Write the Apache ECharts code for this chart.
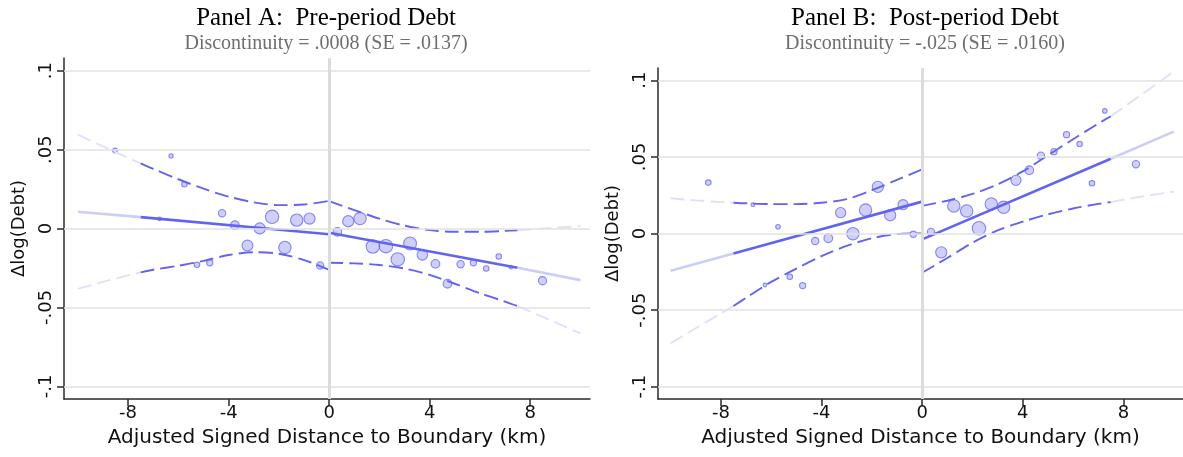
<!DOCTYPE html>
<html>
<head>
<meta charset="utf-8">
<script src="https://cdn.jsdelivr.net/npm/echarts@6/dist/echarts.min.js"></script>
<style>
  html, body { margin: 0; padding: 0; background: #fff; }
  #chart { width: 1183px; height: 457px; }
</style>
</head>
<body>
<div id="chart"></div>
<script>
// Axis ticks
const xTicks = [-8, -4, 0, 4, 8];
const yTicks = [-0.1, -0.05, 0, 0.05, 0.1];
const yTickLabels = ['-.1', '-.05', '0', '.05', '.1'];

// Panel titles
const titles = ['Panel A:  Pre-period Debt', 'Panel B:  Post-period Debt'];
const subtitles = ['Discontinuity = .0008 (SE = .0137)', 'Discontinuity = -.025 (SE = .0160)'];
const xName = 'Adjusted Signed Distance to Boundary (km)';
const yName = '\u0394log(Debt)';

// Binned means: [distance, mean, bin weight]
const binsA = [
  [-8.52, 0.0494, 2], [-6.75, 0.0061, 1], [-6.29, 0.0460, 1.5], [-5.76, 0.0280, 3],
  [-5.26, -0.0230, 3], [-4.75, -0.0217, 4], [-4.26, 0.0097, 6], [-3.75, 0.0021, 9],
  [-3.25, -0.0108, 15], [-2.76, 0.0000, 16], [-2.27, 0.0074, 24], [-1.76, -0.0120, 20],
  [-1.29, 0.0053, 20], [-0.78, 0.0063, 16], [-0.36, -0.0234, 6],
  [0.33, -0.0021, 9], [0.76, 0.0046, 16], [1.23, 0.0063, 20], [1.74, -0.0114, 24],
  [2.26, -0.0112, 24], [2.73, -0.0196, 24], [3.22, -0.0095, 22], [3.71, -0.0167, 14],
  [4.23, -0.0224, 9], [4.71, -0.0350, 9], [5.23, -0.0226, 6], [5.74, -0.0217, 4],
  [6.25, -0.0253, 3], [6.75, -0.0177, 3], [7.23, -0.0245, 1], [8.49, -0.0331, 8]
];
const binsB = [
  [-8.50, 0.0332, 3], [-6.73, 0.0188, 1], [-6.25, -0.0336, 1], [-5.73, 0.0044, 1.8],
  [-5.26, -0.0282, 3], [-4.75, -0.0340, 4], [-4.25, -0.0049, 6], [-3.73, -0.0031, 9],
  [-3.24, 0.0136, 13], [-2.75, -0.0001, 20], [-2.25, 0.0153, 20], [-1.76, 0.0304, 16],
  [-1.27, 0.0119, 16], [-0.76, 0.0188, 13], [-0.35, -0.0005, 4],
  [0.35, 0.0010, 6], [0.76, -0.0123, 16], [1.26, 0.0180, 20], [1.77, 0.0147, 20],
  [2.26, 0.0034, 24], [2.75, 0.0193, 20], [3.24, 0.0171, 20], [3.73, 0.0347, 13],
  [4.26, 0.0413, 9], [4.72, 0.0508, 6], [5.24, 0.0534, 4], [5.74, 0.0645, 4],
  [6.26, 0.0584, 3], [6.75, 0.0328, 3], [7.26, 0.0800, 1.8], [8.50, 0.0452, 6]
];

// Linear fits on each side of the boundary
const fitLeftA = [[-10, 0.0106], [-7.5, 0.0072], [0, -0.0036]];
const fitRightA = [[0, -0.0027], [7.5, -0.0249], [10, -0.0327]];
const fitLeftB = [[-10, -0.0243], [-7.5, -0.0130], [0, 0.0208]];
const fitRightB = [[0, -0.0038], [7.5, 0.0488], [10, 0.0665]];

// 95% confidence bands
const ciUpLeftA = [[-10, 0.0595], [-9, 0.0520], [-8, 0.0447], [-7.5, 0.0412], [-7, 0.0378], [-6, 0.0312], [-5, 0.0252], [-4, 0.0202], [-3, 0.0166], [-2, 0.0148], [-1, 0.0152], [0, 0.0175]];
const ciLoLeftA = [[-10, -0.0382], [-9, -0.0338], [-8, -0.0297], [-7.5, -0.0278], [-7, -0.0261], [-6, -0.0236], [-5, -0.0205], [-4, -0.0168], [-3, -0.0150], [-2, -0.0160], [-1, -0.0200], [0, -0.0262]];
const ciUpRightA = [[0, 0.0173], [1, 0.0117], [2, 0.0062], [3, 0.0018], [4, -0.0010], [5, -0.0021], [6, -0.0021], [7, -0.0015], [7.5, -0.0011], [8.5, 0.0000], [10, 0.0015]];
const ciLoRightA = [[0, -0.0217], [1, -0.0221], [2, -0.0231], [3, -0.0254], [4, -0.0294], [5, -0.0350], [6, -0.0410], [7, -0.0463], [7.5, -0.0492], [8.5, -0.0560], [10, -0.0665]];

const ciUpLeftB = [[-10, 0.0230], [-9, 0.0216], [-8, 0.0205], [-7.5, 0.0201], [-7, 0.0197], [-6, 0.0192], [-5, 0.0192], [-4, 0.0201], [-3, 0.0224], [-2, 0.0283], [-1, 0.0350], [0, 0.0419]];
const ciLoLeftB = [[-10, -0.0717], [-9, -0.0618], [-8, -0.0522], [-7.5, -0.0473], [-7, -0.0420], [-6, -0.0316], [-5, -0.0229], [-4, -0.0148], [-3, -0.0081], [-2, -0.0031], [-1, -0.0004], [0, 0.0001]];
const ciUpRightB = [[0, 0.0180], [1, 0.0214], [2, 0.0258], [3, 0.0320], [4, 0.0405], [5, 0.0510], [6, 0.0615], [7, 0.0717], [7.5, 0.0765], [8.5, 0.0880], [10, 0.1056]];
const ciLoRightB = [[0, -0.0256], [1, -0.0160], [2, -0.0060], [3, 0.0020], [4, 0.0077], [5, 0.0125], [6, 0.0163], [7, 0.0193], [7.5, 0.0205], [8.5, 0.0235], [10, 0.0273]];

const chart = echarts.init(document.getElementById('chart'));

const DARK = '#6363f2';
const FIT_LIGHT = '#cdcdf9';
const CI_LIGHT = '#e0e0fb';
const AXIS_COLOR = '#2a2a2a';
const GRID_COLOR = '#e2e2e2';
const SANS = 'DejaVu Sans';
const SERIF = 'Liberation Serif';

// points with x inside [lo, hi]
function part(curve, lo, hi) {
  return curve.filter(p => p[0] >= lo - 1e-9 && p[0] <= hi + 1e-9);
}

// beyond |x| = 7.5 the fit and band are drawn faint
function curveSeries(curve, idx, dashed) {
  const out = [];
  const lo = curve[0][0], hi = curve[curve.length - 1][0];
  const pieces = lo < 0
    ? [[lo, -7.5, true], [-7.5, hi, false]]
    : [[lo, 7.5, false], [7.5, hi, true]];
  pieces.forEach(([a, b, faint]) => {
    const pts = part(curve, a, b);
    if (pts.length < 2) return;
    out.push({
      type: 'line', xAxisIndex: idx, yAxisIndex: idx, data: pts,
      showSymbol: false, symbol: 'none', smooth: dashed ? 0.3 : false,
      silent: true, z: 4,
      lineStyle: {
        color: faint ? (dashed ? CI_LIGHT : FIT_LIGHT) : DARK,
        width: dashed ? 1.9 : 2.6,
        type: dashed ? [14, 6] : 'solid'
      }
    });
  });
  return out;
}

// horizontal grid lines and the boundary line at 0
function backdrop(idx) {
  return {
    type: 'line', xAxisIndex: idx, yAxisIndex: idx, data: [], silent: true, z: 1,
    markLine: {
      silent: true, symbol: 'none', animation: false,
      label: { show: false },
      data: [
        ...yTicks.map(v => ({ yAxis: v, lineStyle: { color: GRID_COLOR, width: 1.6, type: 'solid' } })),
        { xAxis: 0, lineStyle: { color: '#dcdcdc', width: 3, type: 'solid' } }
      ]
    }
  };
}

function scatter(bins, idx) {
  return {
    type: 'scatter', xAxisIndex: idx, yAxisIndex: idx, data: bins, z: 3,
    symbol: 'circle',
    symbolSize: v => 2.5 * Math.sqrt(v[2]) + 1.2,
    itemStyle: { color: 'rgba(140,140,238,0.52)', borderColor: 'rgba(95,95,235,0.9)', borderWidth: 1.1 },
    silent: true
  };
}

function xAxis(idx, min, max) {
  return {
    type: 'value', gridIndex: idx, min: min, max: max,
    axisLine: { show: true, onZero: false, lineStyle: { color: AXIS_COLOR, width: 1.5 } },
    axisTick: { show: true, length: 7, customValues: xTicks, lineStyle: { color: AXIS_COLOR, width: 1.5 } },
    axisLabel: { customValues: xTicks, fontSize: 18, fontFamily: SANS, color: '#111', margin: 5,
      formatter: v => String(v) },
    splitLine: { show: false },
    name: xName, nameLocation: 'middle', nameGap: 29,
    nameTextStyle: { fontSize: 20, fontFamily: SANS, color: '#111' }
  };
}

function yAxis(idx) {
  return {
    type: 'value', gridIndex: idx, min: -0.108, max: 0.108,
    axisLine: { show: true, onZero: false, lineStyle: { color: AXIS_COLOR, width: 1.5 } },
    axisTick: { show: true, length: 7, customValues: yTicks, lineStyle: { color: AXIS_COLOR, width: 1.5 } },
    axisLabel: { customValues: yTicks, rotate: 90, fontSize: 18, fontFamily: SANS, color: '#111', margin: 9,
      formatter: v => {
        const i = yTicks.findIndex(t => Math.abs(t - v) < 1e-9);
        return i >= 0 ? yTickLabels[i] : '';
      } },
    splitLine: { show: false },
    name: yName, nameLocation: 'middle', nameRotate: 90, nameGap: 36,
    nameTextStyle: { fontSize: 18, fontFamily: SANS, color: '#111' }
  };
}

function titleText(x, i) {
  return [
    { type: 'text', x: x, y: 6, style: { text: titles[i], font: '25px "' + SERIF + '"', fill: '#000', textAlign: 'center', textVerticalAlign: 'top' } },
    { type: 'text', x: x, y: 34, style: { text: subtitles[i], font: '20px "' + SERIF + '"', fill: '#6e6e6e', textAlign: 'center', textVerticalAlign: 'top' } }
  ];
}

const series = [
  backdrop(0), backdrop(1),
  scatter(binsA, 0), scatter(binsB, 1),
  ...curveSeries(fitLeftA, 0, false), ...curveSeries(fitRightA, 0, false),
  ...curveSeries(ciUpLeftA, 0, true), ...curveSeries(ciLoLeftA, 0, true),
  ...curveSeries(ciUpRightA, 0, true), ...curveSeries(ciLoRightA, 0, true),
  ...curveSeries(fitLeftB, 1, false), ...curveSeries(fitRightB, 1, false),
  ...curveSeries(ciUpLeftB, 1, true), ...curveSeries(ciLoLeftB, 1, true),
  ...curveSeries(ciUpRightB, 1, true), ...curveSeries(ciLoRightB, 1, true)
];

chart.setOption({
  animation: false,
  backgroundColor: '#ffffff',
  graphic: [...titleText(326, 0), ...titleText(925, 1)],
  grid: [
    { left: 64, top: 58, width: 526, height: 341 },
    { left: 658, top: 68, width: 525, height: 331 }
  ],
  xAxis: [xAxis(0, -10.55, 10.38), xAxis(1, -10.5, 10.37)],
  yAxis: [yAxis(0), yAxis(1)],
  series: series
});
</script>
</body>
</html>
